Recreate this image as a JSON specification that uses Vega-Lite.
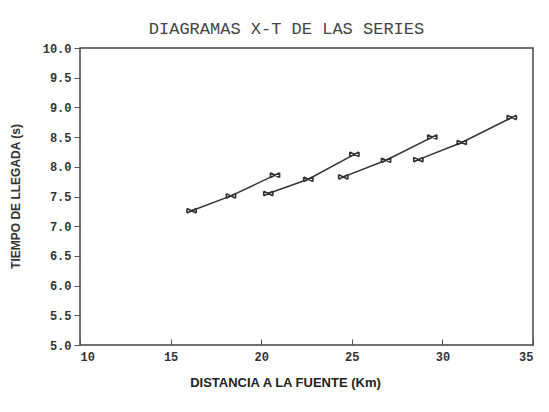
{
  "$schema": "https://vega.github.io/schema/vega-lite/v6.json",
  "width": 453,
  "height": 297,
  "autosize": "none",
  "padding": {"left": 80, "top": 48, "right": 16, "bottom": 67},
  "background": "white",
  "title": {
    "text": "DIAGRAMAS X-T DE LAS SERIES",
    "font": "Liberation Mono",
    "fontSize": 17,
    "fontWeight": "normal",
    "color": "#444",
    "anchor": "middle",
    "frame": "group",
    "offset": 4,
    "dx": -20
  },
  "data": {
    "values": [
      {"serie": "1", "x": 16.16, "t": 7.26},
      {"serie": "1", "x": 18.33, "t": 7.51},
      {"serie": "1", "x": 20.76, "t": 7.86},
      {"serie": "2", "x": 20.39, "t": 7.55},
      {"serie": "2", "x": 22.60, "t": 7.79},
      {"serie": "2", "x": 25.14, "t": 8.21},
      {"serie": "3", "x": 24.53, "t": 7.83},
      {"serie": "3", "x": 26.89, "t": 8.11},
      {"serie": "3", "x": 29.44, "t": 8.50},
      {"serie": "4", "x": 28.67, "t": 8.12},
      {"serie": "4", "x": 31.07, "t": 8.41},
      {"serie": "4", "x": 33.83, "t": 8.83}
    ]
  },
  "encoding": {
    "x": {
      "field": "x",
      "type": "quantitative",
      "scale": {"domain": [10, 35], "nice": false},
      "axis": {
        "title": "DISTANCIA A LA FUENTE (Km)",
        "values": [10, 15, 20, 25, 30, 35],
        "format": "d",
        "grid": false,
        "domain": false,
        "tickSize": -6,
        "tickColor": "#555",
        "labelPadding": 12,
        "labelFont": "Liberation Mono",
        "labelFontSize": 12,
        "labelFontWeight": "bold",
        "labelColor": "#333",
        "titleFont": "Liberation Sans",
        "titleFontSize": 13,
        "titleFontWeight": "bold",
        "titleColor": "#222",
        "titleAnchor": "middle",
        "titleX": 205,
        "titleY": 31
      }
    },
    "y": {
      "field": "t",
      "type": "quantitative",
      "scale": {"domain": [5, 10], "nice": false, "zero": false},
      "axis": {
        "title": "TIEMPO DE LLEGADA (s)",
        "values": [5, 5.5, 6, 6.5, 7, 7.5, 8, 8.5, 9, 9.5, 10],
        "format": ".1f",
        "grid": false,
        "domain": false,
        "tickSize": 6,
        "tickColor": "#555",
        "labelPadding": 3,
        "labelFont": "Liberation Mono",
        "labelFontSize": 12,
        "labelFontWeight": "bold",
        "labelColor": "#333",
        "titleFont": "Liberation Sans",
        "titleFontSize": 12,
        "titleFontWeight": "bold",
        "titleColor": "#333",
        "titleX": -58,
        "titleY": 148
      }
    },
    "detail": {"field": "serie"}
  },
  "layer": [
    {"mark": {"type": "line", "color": "#333", "strokeWidth": 1.5}},
    {
      "mark": {
        "type": "point",
        "shape": "M-1,-0.5L1,0.5M-1,0.5L1,-0.5M-1,-0.5L-1,0.5M1,-0.5L1,0.5",
        "size": 85,
        "filled": false,
        "color": "#333",
        "strokeWidth": 1.6,
        "opacity": 1
      }
    }
  ],
  "config": {
    "view": {"stroke": "#444", "strokeWidth": 1.5}
  }
}
